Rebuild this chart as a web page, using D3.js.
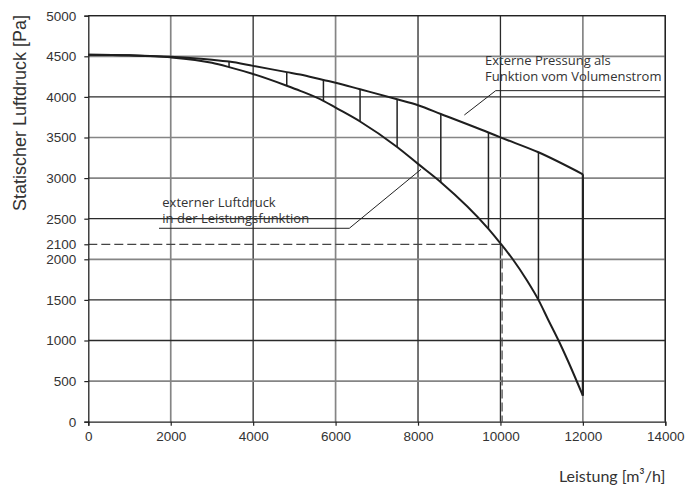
<!DOCTYPE html>
<html>
<head>
<meta charset="utf-8">
<script src="https://cdn.jsdelivr.net/npm/d3@7"></script>
<style>
  body { margin: 0; background: #fff; }
  .tick text { font-family: "Liberation Sans", Arial, sans-serif; font-size: 13.5px; fill: #333; }
  .note { font-family: "Open Sans", sans-serif; font-size: 13px; fill: #333; }
</style>
</head>
<body>
<div id="chart"></div>
<script>
// Externe Pressung als Funktion vom Volumenstrom
var upperFlow = [0, 1000, 2000, 3000, 3415, 4000, 4815, 5141, 5705, 6000, 6594, 7493, 8000, 8553, 9709, 10000, 10922, 12000];
var upperPressure = [4520, 4514, 4494, 4458, 4435, 4382, 4305, 4275, 4208, 4175, 4094, 3970, 3897, 3790, 3562, 3502, 3318, 3047];
// externer Luftdruck in der Leistungsfunktion
var lowerFlow = [0, 1000, 2000, 3000, 3415, 4000, 4815, 5141, 5705, 6000, 6594, 7493, 8000, 8553, 9709, 10000, 10312, 10637, 10922, 11161, 11404, 11647, 12000];
var lowerPressure = [4520, 4512, 4487, 4420, 4367, 4282, 4138, 4075, 3952, 3868, 3697, 3383, 3175, 2950, 2375, 2196, 1991, 1745, 1500, 1253, 1006, 738, 320];
// flows where a vertical joins the two curves
var dropFlows = [3415, 4815, 5705, 6594, 7493, 8553, 9709, 10922, 12000];

// operating point (dashed)
var opFlow = 10040;
var opPressure = 2185;
var opLabel = "2100";

var xTicks = [0, 2000, 4000, 6000, 8000, 10000, 12000, 14000];
var yTicks = [0, 500, 1000, 1500, 2000, 2500, 3000, 3500, 4000, 4500, 5000];
var lightX = [2000, 6000, 12000];
var lightY = [500, 2000, 3000, 3500, 4500];

var width = 700, height = 489;
var pLeft = 88.3, pRight = 665.3, pTop = 15.7, pBottom = 421.7;

var svg = d3.select('#chart').append('svg')
    .attr('width', width)
    .attr('height', height);

var x = d3.scaleLinear().domain([0, 14000]).range([pLeft, pRight]);
var y = d3.scaleLinear().domain([0, 5000]).range([pBottom, pTop]);

// grid
svg.append('g').selectAll('line')
    .data(xTicks.filter(function(d) { return d > 0; }))
    .enter().append('line')
    .attr('x1', function(d) { return x(d); })
    .attr('x2', function(d) { return x(d); })
    .attr('y1', y(0)).attr('y2', y(5000))
    .attr('stroke', function(d) { return lightX.indexOf(d) >= 0 ? '#858585' : '#2a2a2a'; })
    .attr('stroke-width', function(d) { return lightX.indexOf(d) >= 0 ? 1.7 : 1.3; });

svg.append('g').selectAll('line')
    .data(yTicks.filter(function(d) { return d > 0; }))
    .enter().append('line')
    .attr('x1', x(0)).attr('x2', x(14000))
    .attr('y1', function(d) { return y(d); })
    .attr('y2', function(d) { return y(d); })
    .attr('stroke', function(d) { return lightY.indexOf(d) >= 0 ? '#858585' : '#2a2a2a'; })
    .attr('stroke-width', function(d) { return lightY.indexOf(d) >= 0 ? 1.7 : 1.3; });

// dashed operating point
svg.append('path')
    .attr('d', 'M' + x(0) + ',' + y(opPressure) + 'H' + x(opFlow) + 'V' + y(0))
    .attr('fill', 'none')
    .attr('stroke', '#444')
    .attr('stroke-width', 1.2)
    .attr('stroke-dasharray', '9,4');

var upperPts = upperFlow.map(function(f, i) { return [f, upperPressure[i]]; });
var lowerPts = lowerFlow.map(function(f, i) { return [f, lowerPressure[i]]; });

var line = d3.line()
    .x(function(d) { return x(d[0]); })
    .y(function(d) { return y(d[1]); })
    .curve(d3.curveMonotoneX);

// verticals between the curves
svg.append('g').selectAll('line')
    .data(dropFlows)
    .enter().append('line')
    .attr('x1', function(d) { return x(d); })
    .attr('x2', function(d) { return x(d); })
    .attr('y1', function(d) { return y(upperPressure[upperFlow.indexOf(d)]); })
    .attr('y2', function(d) { return y(lowerPressure[lowerFlow.indexOf(d)]); })
    .attr('stroke', '#222')
    .attr('stroke-width', function(d) { return d === 12000 ? 2.2 : 1.5; });

svg.append('path').datum(upperPts)
    .attr('d', line)
    .attr('fill', 'none')
    .attr('stroke', '#1e1e1e')
    .attr('stroke-width', 2);

svg.append('path').datum(lowerPts)
    .attr('d', line)
    .attr('fill', 'none')
    .attr('stroke', '#1e1e1e')
    .attr('stroke-width', 2);

// annotations with leader lines
svg.append('path')
    .attr('d', 'M' + x(13873) + ',' + y(4077) + 'H' + x(9886) + 'L' + x(9124) + ',' + y(3777))
    .attr('fill', 'none').attr('stroke', '#222').attr('stroke-width', 1);
svg.append('text').attr('class', 'note')
    .attr('x', x(9625)).attr('y', y(4393)).text('Externe Pressung als');
svg.append('text').attr('class', 'note')
    .attr('x', x(9625)).attr('y', y(4195)).text('Funktion vom Volumenstrom');

svg.append('path')
    .attr('d', 'M' + x(1716) + ',' + y(2382) + 'H' + x(6333) + 'L' + x(8073) + ',' + y(3108))
    .attr('fill', 'none').attr('stroke', '#222').attr('stroke-width', 1);
svg.append('text').attr('class', 'note')
    .attr('x', x(1796)).attr('y', y(2648)).text('externer Luftdruck');
svg.append('text').attr('class', 'note')
    .attr('x', x(1796)).attr('y', y(2451)).text('in der Leistungsfunktion');

// frame top / right
svg.append('path')
    .attr('d', 'M' + x(0) + ',' + y(5000) + 'H' + x(14000) + 'V' + y(0))
    .attr('fill', 'none').attr('stroke', '#222').attr('stroke-width', 1.3);

// axes
var yAxis = d3.axisLeft(y)
    .tickValues(yTicks.concat([opPressure]))
    .tickFormat(function(d) { return d === opPressure ? opLabel : d; })
    .tickSize(4).tickPadding(8);
var gy = svg.append('g').attr('transform', 'translate(' + pLeft + ',0)').call(yAxis);

var xAxis = d3.axisBottom(x)
    .tickValues(xTicks)
    .tickFormat(d3.format('d'))
    .tickSize(4).tickPadding(6);
var gx = svg.append('g').attr('transform', 'translate(0,' + pBottom + ')').call(xAxis);

[gx, gy].forEach(function(g) {
  g.select('.domain').attr('stroke', '#222').attr('stroke-width', 1.3);
  g.selectAll('.tick line').attr('stroke', '#222').attr('stroke-width', 1.2);
});

// axis titles
svg.append('text')
    .attr('transform', 'translate(26,' + 113 + ') rotate(-90)')
    .attr('text-anchor', 'middle')
    .style('font-family', '"Liberation Sans", Arial, sans-serif')
    .style('font-size', '18px')
    .style('fill', '#333')
    .text('Statischer Luftdruck [Pa]');

svg.append('text')
    .attr('x', pRight).attr('y', 482)
    .attr('text-anchor', 'end')
    .style('font-family', 'Lato, sans-serif')
    .style('font-size', '16px')
    .style('fill', '#333')
    .text('Leistung [m³/h]');
</script>
</body>
</html>
